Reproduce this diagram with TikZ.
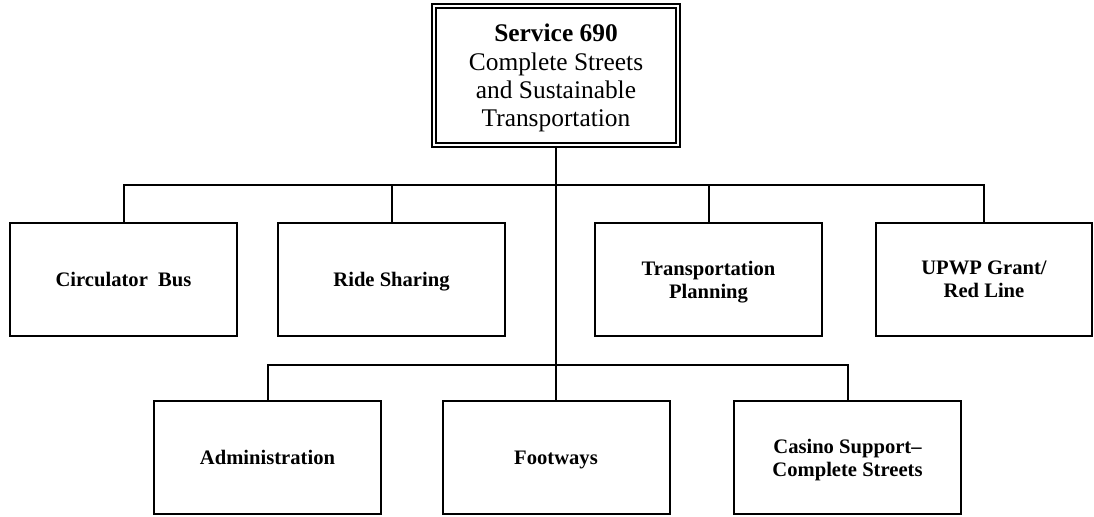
\documentclass[tikz,border=0pt]{standalone}
\usepackage{fontspec}
\setmainfont{Liberation Serif}

\begin{document}
\begin{tikzpicture}[x=0.5pt, y=-0.5pt,
	box/.style={draw, line width=1pt, minimum width=113.5pt, minimum height=56.5pt,
		inner sep=2pt, align=center, text depth=0pt,
		font=\fontsize{10.3pt}{11.6pt}\selectfont\bfseries},
	head/.style={draw, double, line width=0.9pt, double distance=1.3pt,
		minimum width=121.9pt, minimum height=69.4pt, inner sep=2pt, align=center,
		text depth=0pt, font=\fontsize{12.7pt}{14.2pt}\selectfont},
	link/.style={line width=1pt}]
	\useasboundingbox (0,0) rectangle (1094,516);
	
	\node[head] (s) at (556,75.5) {\textbf{Service 690}\\Complete Streets\\and Sustainable\\Transportation};
	
	\node[box] (a1) at (123.5,279.5) {Circulator\ \ Bus};
	\node[box] (a2) at (391.5,279.5) {Ride Sharing};
	\node[box] (a3) at (708.5,279.5) {Transportation\\Planning};
	\node[box, minimum width=108pt] (a4) at (984,279.5) {UPWP Grant/\\Red Line};
	
	\node[box] (b1) at (267.5,457.5) {Administration};
	\node[box] (b2) at (556,457.5) {Footways};
	\node[box] (b3) at (847.5,457.5) {Casino Support--\\Complete Streets};
	
	\coordinate (j1) at (556,185);
	\coordinate (j2) at (556,365);
	
	\draw[link] (s) -- (b2);
	\draw[link] (a1) |- (j1) -| (a4);
	\draw[link] (a2) -- (a2 |- j1);
	\draw[link] (a3) -- (a3 |- j1);
	\draw[link] (b1) |- (j2) -| (b3);
\end{tikzpicture}
\end{document}
